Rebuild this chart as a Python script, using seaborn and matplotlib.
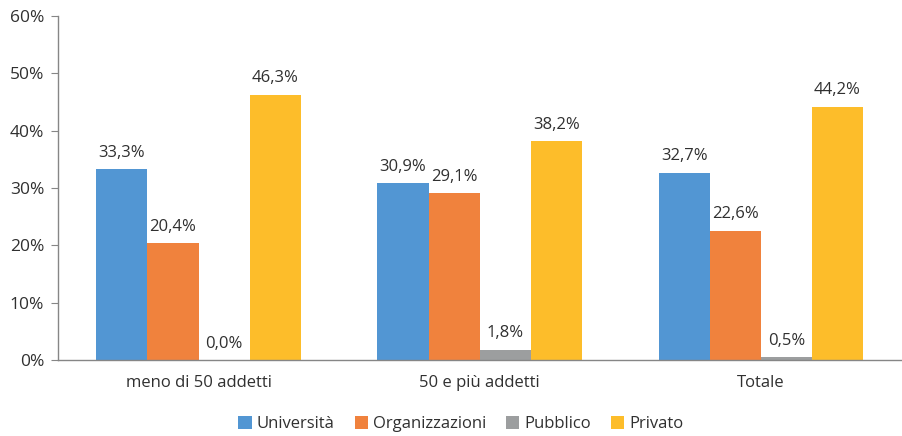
import pandas as pd
import matplotlib.pyplot as plt
import seaborn as sns

# Data
categories = ['meno di 50 addetti', '50 e più addetti', 'Totale']
series = ['Università', 'Organizzazioni', 'Pubblico', 'Privato']
universita = [33.3, 30.9, 32.7]
organizzazioni = [20.4, 29.1, 22.6]
pubblico = [0.0, 1.8, 0.5]
privato = [46.3, 38.2, 44.2]
colors = ['#5296D3', '#F0823D', '#9C9E9F', '#FDBD2A']

rows = []
for name, vals in zip(series, [universita, organizzazioni, pubblico, privato]):
    for cat, v in zip(categories, vals):
        rows.append({'Categoria': cat, 'Serie': name, 'Valore': v})
df = pd.DataFrame(rows)

sns.set_style('white')
plt.rcParams['font.family'] = ['Open Sans', 'DejaVu Sans']
text_color = '#303030'
axis_color = '#868686'

fig = plt.figure(figsize=(9.02, 4.36), dpi=100)
ax = fig.add_axes([0.0643, 0.174, 0.935, 0.789])

sns.barplot(data=df, x='Categoria', y='Valore', hue='Serie', order=categories,
            hue_order=series, palette=colors, width=0.727, gap=0,
            saturation=1, linewidth=0, ax=ax, legend=True)

# Data labels
for container in ax.containers:
    labels = [f'{b.get_height():.1f}%'.replace('.', ',') for b in container]
    ax.bar_label(container, labels=labels, padding=6, fontsize=12, color=text_color)

ax.set_ylim(0, 60)
ax.set_xlim(-0.5, 2.5)
ax.set_yticks(range(0, 61, 10))
ax.set_yticklabels([f'{v}%' for v in range(0, 61, 10)], fontsize=12.5, color=text_color)
ax.set_xticks(range(3))
ax.set_xticklabels(categories, fontsize=12, color=text_color)
ax.set_xticks([-0.5, 0.5, 1.5, 2.5], minor=True)
ax.tick_params(axis='x', which='major', length=0, pad=11)
ax.tick_params(axis='x', which='minor', length=5, color=axis_color, direction='out')
ax.tick_params(axis='y', length=5, color=axis_color, direction='out', left=True, pad=5)
ax.set_xlabel('')
ax.set_ylabel('')

for s in ['top', 'right']:
    ax.spines[s].set_visible(False)
for s in ['left', 'bottom']:
    ax.spines[s].set_color(axis_color)
    ax.spines[s].set_linewidth(1)

# Legend at the bottom
handles, labels = ax.get_legend_handles_labels()
ax.legend_.remove()
leg = fig.legend(handles, labels, loc='center', bbox_to_anchor=(0.511, 0.027),
                 ncol=4, frameon=False, fontsize=12, handlelength=0.8,
                 handleheight=0.8, handletextpad=0.3, columnspacing=1.2)
for t in leg.get_texts():
    t.set_color(text_color)

fig.savefig('out.png', dpi=100)
